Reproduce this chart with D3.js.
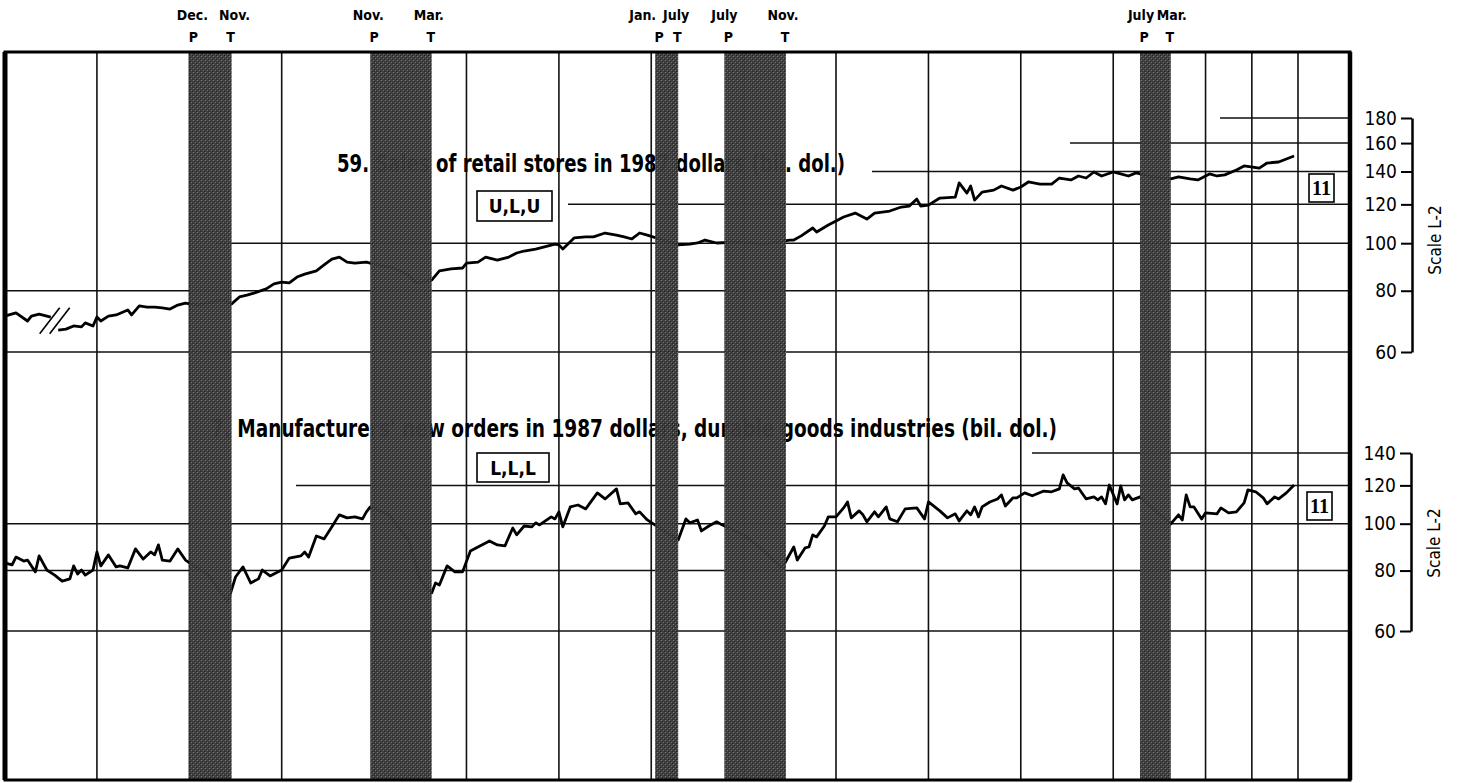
<!DOCTYPE html>
<html>
<head>
<meta charset="utf-8">
<script src="https://cdn.jsdelivr.net/npm/d3@7"></script>
<style>
body { margin: 0; background: #fff; }
svg { display: block; }
text { font-family: "Liberation Sans Narrow", "DejaVu Sans Condensed", "Liberation Sans", sans-serif; }
</style>
</head>
<body>
<div id="chart"></div>
<script>
// series 59, before the break in the series (old basis)
const retailBeforeBreak = [
  ["1966-01",71.0],["1966-04",72.1],["1966-07",69.4],["1966-08",71.0],["1966-10",71.7],["1967-01",70.7]
];
// series 59, sales of retail stores in 1987 dollars (bil. dol.)
const retailSales = [
  ["1967-03",66.5],["1967-05",66.8],["1967-07",67.8],["1967-09",67.5],["1967-10",68.8],["1967-12",67.8],
  ["1968-01",70.7],["1968-02",69.4],["1968-04",71.0],["1968-06",71.4],["1968-09",73.1],["1968-10",71.4],["1968-12",74.5],
  ["1969-02",74.1],["1969-04",74.1],["1969-06",73.8],["1969-08",73.4],["1969-10",74.8],["1969-12",75.5],
  ["1970-03",74.8],["1970-07",75.9],["1970-10",76.6],["1970-12",75.2],
  ["1971-02",77.7],["1971-04",78.4],["1971-06",79.2],["1971-09",80.7],["1971-11",82.6],
  ["1972-01",83.3],["1972-03",83.0],["1972-05",85.3],["1972-07",86.5],["1972-10",87.8],["1972-12",90.3],
  ["1973-02",92.8],["1973-04",93.7],["1973-06",91.5],["1973-08",91.1],["1973-11",91.5],["1973-12",91.1],
  ["1974-06",89.0],["1974-10",86.1],["1974-12",83.0],
  ["1975-04",84.1],["1975-06",87.8],["1975-09",88.6],["1975-12",89.0],
  ["1976-01",91.1],["1976-04",91.5],["1976-06",93.7],["1976-09",92.4],["1976-12",93.7],
  ["1977-02",95.5],["1977-04",96.4],["1977-07",97.3],["1977-09",98.2],["1977-12",99.6],
  ["1978-01",99.2],["1978-02",97.3],["1978-05",102.5],["1978-08",103.0],["1978-10",103.0],
  ["1979-01",104.9],["1979-04",103.9],["1979-06",103.0],["1979-08",102.0],["1979-10",104.9],["1979-12",103.9],
  ["1980-04",101.5],["1980-08",99.2],["1980-11",99.6],
  ["1981-01",100.1],["1981-03",101.5],["1981-06",100.1],["1981-12",100.6],["1982-06",99.6],
  ["1983-01",101.5],["1983-02",101.5],["1983-04",103.5],["1983-07",107.4],["1983-08",105.4],["1983-11",108.9],
  ["1984-01",111.0],["1984-03",113.1],["1984-06",115.2],["1984-09",112.0],["1984-11",115.2],
  ["1985-03",116.3],["1985-06",118.5],["1985-08",119.0],["1985-10",123.0],["1985-11",119.0],
  ["1986-01",119.6],["1986-04",123.6],["1986-08",124.2],["1986-09",132.7],["1986-11",126.5],["1986-12",130.8],
  ["1987-01",122.4],["1987-03",127.1],["1987-06",128.3],["1987-08",130.8],["1987-11",128.3],
  ["1988-01",130.2],["1988-03",133.3],["1988-06",132.0],["1988-09",132.0],["1988-11",135.8],
  ["1989-02",134.6],["1989-04",137.1],["1989-06",135.8],["1989-08",139.7],["1989-10",137.1],
  ["1990-01",139.7],["1990-03",138.4],["1990-05",137.1],["1990-07",139.1],["1990-11",136.5],
  ["1991-04",135.2],["1991-06",136.5],["1991-09",135.2],["1991-11",134.6],
  ["1992-02",138.4],["1992-04",137.1],["1992-06",137.8],["1992-09",141.0],["1992-11",143.7],
  ["1993-03",142.3],["1993-05",145.7],["1993-08",146.4],["1993-12",150.6]
];
// series 7, manufacturers' new orders, durable goods, 1987 dollars (bil. dol.)
const durableOrders = [
  ["1966-01",83.0],["1966-03",82.2],["1966-04",85.3],["1966-06",83.7],["1966-07",84.1],["1966-09",79.5],["1966-10",85.8],["1966-12",80.2],
  ["1967-02",78.3],["1967-04",76.1],["1967-06",76.9],["1967-07",81.8],["1967-08",78.7],["1967-09",80.2],["1967-10",78.3],["1967-12",80.2],
  ["1968-01",87.4],["1968-02",81.8],["1968-04",86.2],["1968-06",81.4],["1968-07",81.8],["1968-09",81.0],["1968-11",88.7],
  ["1969-01",84.5],["1969-03",87.4],["1969-04",86.2],["1969-05",90.4],["1969-06",84.1],["1969-08",83.7],["1969-10",88.7],["1969-12",84.1],
  ["1970-06",78.3],["1970-11",68.9],
  ["1971-01",77.6],["1971-03",81.4],["1971-05",75.4],["1971-07",76.9],["1971-08",80.2],["1971-10",78.0],
  ["1972-01",80.2],["1972-03",84.9],["1972-06",85.8],["1972-07",87.4],["1972-08",85.3],["1972-10",94.3],["1972-12",93.0],
  ["1973-02",98.5],["1973-04",104.3],["1973-06",102.8],["1973-08",103.3],["1973-10",102.3],["1973-11",105.8],["1973-12",108.3],
  ["1974-05",104.3],["1974-10",92.5],["1975-01",76.5],
  ["1975-04",71.9],["1975-05",75.4],["1975-06",74.7],["1975-08",81.8],["1975-10",79.5],["1975-12",79.5],
  ["1976-02",87.8],["1976-04",89.5],["1976-07",92.1],["1976-09",90.4],["1976-11",90.0],
  ["1977-01",98.0],["1977-02",94.8],["1977-04",98.9],["1977-06",98.5],["1977-07",100.4],["1977-08",99.4],["1977-11",103.3],["1977-12",102.3],
  ["1978-01",105.8],["1978-02",98.5],["1978-04",108.3],["1978-06",109.3],["1978-08",107.3],["1978-11",115.8],
  ["1979-01",112.5],["1979-04",118.0],["1979-05",109.9],["1979-07",110.4],["1979-09",104.8],["1979-10",105.8],["1979-12",101.8],
  ["1980-04",97.0],["1980-08",92.5],["1980-10",102.3],["1980-11",100.4],
  ["1981-01",101.8],["1981-02",96.6],["1981-04",98.9],["1981-06",100.9],["1981-07",99.9],
  ["1982-01",94.8],["1982-06",88.3],["1982-11",81.0],
  ["1983-02",89.5],["1983-03",84.1],["1983-05",89.1],["1983-06",89.5],["1983-07",94.8],["1983-08",93.9],["1983-10",98.9],["1983-11",103.3],
  ["1984-01",103.3],["1984-03",107.8],["1984-04",110.9],["1984-05",102.8],["1984-07",106.3],["1984-08",104.3],["1984-09",100.9],["1984-11",105.8],["1984-12",103.3],
  ["1985-02",108.3],["1985-03",102.3],["1985-05",100.9],["1985-07",107.3],["1985-10",107.8],["1985-12",102.3],
  ["1986-01",110.9],["1986-04",106.3],["1986-06",102.8],["1986-08",104.8],["1986-09",101.3],["1986-11",106.3],["1986-12",104.3],
  ["1987-01",108.3],["1987-02",103.3],["1987-03",108.3],["1987-05",110.9],["1987-07",112.5],["1987-08",114.7],["1987-09",108.8],["1987-11",113.1],["1987-12",113.1],
  ["1988-02",115.8],["1988-04",114.2],["1988-07",116.8],["1988-09",116.4],["1988-11",118.0],["1988-12",126.1],
  ["1989-01",121.4],["1989-03",118.0],["1989-04",118.5],["1989-06",112.5],["1989-08",113.6],["1989-09",112.0],["1989-10",113.6],["1989-11",109.9],["1989-12",120.2],
  ["1990-02",109.9],["1990-03",119.7],["1990-04",112.0],["1990-05",114.7],["1990-06",112.0],["1990-08",113.6],["1990-11",108.0],
  ["1991-04",99.9],["1991-06",104.3],["1991-07",101.8],["1991-08",114.7],["1991-09",108.3],["1991-10",108.3],["1991-12",102.3],
  ["1992-01",105.3],["1992-04",104.8],["1992-05",107.8],["1992-07",105.3],["1992-09",105.8],["1992-11",110.4],["1992-12",117.4],
  ["1993-02",116.4],["1993-04",113.1],["1993-05",109.9],["1993-07",113.6],["1993-08",112.5],["1993-10",115.8],["1993-12",120.2]
];

// business cycle peaks (P) and troughs (T)
const peaks = ["1969-12","1973-11","1980-01","1981-07","1990-07"];
const troughs = ["1970-11","1975-03","1980-07","1982-11","1991-03"];
const peakLabels = ["Dec.","Nov.","Jan.","July","July"];
const troughLabels = ["Nov.","Mar.","July","Nov.","Mar."];

const gridYears = [1968,1970,1972,1974,1976,1978,1980,1982,1984,1986,1988,1990,1992,1993,1994];
const retailTicks = [60,80,100,120,140,160,180];
const ordersTicks = [60,80,100,120,140];

const retailTitle = "59. Sales of retail stores in 1987 dollars (bil. dol.)";
const ordersTitle = "7. Manufacturers' new orders in 1987 dollars, durable goods industries (bil. dol.)";

// layout
const width = 1461, height = 783;
const frame = {left: 5, right: 1350, top: 52, bottom: 780};
const retailGridStart = {60: 5, 80: 5, 100: 215, 120: 568, 140: 872, 160: 1070, 180: 1220};
const ordersGridStart = {60: 5, 80: 5, 100: 5, 120: 296, 140: 1032};

const parse = d3.timeParse("%Y-%m");
const x = d3.scaleTime()
  .domain([new Date(1966, 0, 1), new Date(1994, 0, 1)])
  .range([4.6, 1298]);
const yRetail = d3.scaleLog().domain([60, 180]).range([352, 118]);
const yOrders = d3.scaleLog().domain([60, 140]).range([631, 453]);

const svg = d3.select("#chart").append("svg")
  .attr("width", width)
  .attr("height", height);

const defs = svg.append("defs");
const pat = defs.append("pattern")
  .attr("id", "stipple")
  .attr("width", 4).attr("height", 4)
  .attr("patternUnits", "userSpaceOnUse");
pat.append("rect").attr("width", 4).attr("height", 4).attr("fill", "#3a3a3a");
pat.append("rect").attr("x", 1).attr("y", 0).attr("width", 1).attr("height", 1).attr("fill", "#7a7a7a");
pat.append("rect").attr("x", 3).attr("y", 2).attr("width", 1).attr("height", 1).attr("fill", "#6a6a6a");
pat.append("rect").attr("x", 0).attr("y", 3).attr("width", 1).attr("height", 1).attr("fill", "#1c1c1c");
pat.append("rect").attr("x", 2).attr("y", 1).attr("width", 1).attr("height", 1).attr("fill", "#222");

// vertical grid
svg.append("g").selectAll("line")
  .data(gridYears)
  .enter().append("line")
  .attr("x1", d => x(new Date(d, 0, 1)))
  .attr("x2", d => x(new Date(d, 0, 1)))
  .attr("y1", frame.top)
  .attr("y2", frame.bottom)
  .attr("stroke", "#111")
  .attr("stroke-width", 1.6);

// horizontal grid
function hGrid(ticks, y, start){
  svg.append("g").selectAll("line")
    .data(ticks)
    .enter().append("line")
    .attr("x1", d => start[d])
    .attr("x2", frame.right)
    .attr("y1", d => y(d))
    .attr("y2", d => y(d))
    .attr("stroke", "#111")
    .attr("stroke-width", 1.5);
}
hGrid(retailTicks, yRetail, retailGridStart);
hGrid(ordersTicks, yOrders, ordersGridStart);

// titles
svg.append("text")
  .attr("x", 337).attr("y", 172)
  .attr("font-size", 24).attr("font-weight", "bold")
  .attr("textLength", 508).attr("lengthAdjust", "spacingAndGlyphs")
  .text(retailTitle);
svg.append("text")
  .attr("x", 211).attr("y", 437)
  .attr("font-size", 24).attr("font-weight", "bold")
  .attr("textLength", 846).attr("lengthAdjust", "spacingAndGlyphs")
  .text(ordersTitle);

// timing boxes
function codeBox(label, bx, by, w, h){
  svg.append("rect")
    .attr("x", bx).attr("y", by).attr("width", w).attr("height", h)
    .attr("fill", "#fff").attr("stroke", "#000").attr("stroke-width", 1.6);
  svg.append("text")
    .attr("x", bx + w / 2).attr("y", by + h / 2 + 7)
    .attr("text-anchor", "middle")
    .attr("font-size", 19).attr("font-weight", "bold")
    .text(label);
}
codeBox("U,L,U", 477, 191, 75, 30);
codeBox("L,L,L", 477, 453, 72, 29);

function pageBox(bx, by){
  svg.append("rect")
    .attr("x", bx).attr("y", by).attr("width", 25).attr("height", 28)
    .attr("fill", "#fff").attr("stroke", "#000").attr("stroke-width", 1.6);
  svg.append("text")
    .attr("x", bx + 12.5).attr("y", by + 21)
    .attr("text-anchor", "middle")
    .style("font-family", "'Liberation Serif', 'DejaVu Serif', serif")
    .attr("font-size", 20).attr("font-weight", "bold")
    .text("11");
}
pageBox(1309, 174);
pageBox(1307, 492);

// series lines
const line = y => d3.line()
  .x(d => x(parse(d[0])))
  .y(d => y(d[1]));

[[retailBeforeBreak, yRetail], [retailSales, yRetail], [durableOrders, yOrders]].forEach(([data, y]) => {
  svg.append("path")
    .datum(data)
    .attr("d", line(y))
    .attr("fill", "none")
    .attr("stroke", "#000")
    .attr("stroke-width", 2.8)
    .attr("stroke-linejoin", "round");
});

// break mark between the two parts of series 59
const bx = x(parse("1967-02")), by = yRetail(69.5);
[-5, 5].forEach(off => {
  svg.append("line")
    .attr("x1", bx + off - 10).attr("y1", by + 13)
    .attr("x2", bx + off + 10).attr("y2", by - 13)
    .attr("stroke", "#000").attr("stroke-width", 1.6);
});

// recession shading
const month = s => d3.timeMonth.offset(parse(s), 1);
svg.append("g").selectAll("rect")
  .data(peaks)
  .enter().append("rect")
  .attr("x", (d, i) => x(month(d)))
  .attr("width", (d, i) => x(month(troughs[i])) - x(month(d)))
  .attr("y", frame.top)
  .attr("height", frame.bottom - frame.top)
  .attr("fill", "url(#stipple)")
  .attr("opacity", 0.97);

// frame
svg.append("rect")
  .attr("x", frame.left).attr("y", frame.top)
  .attr("width", frame.right - frame.left)
  .attr("height", frame.bottom - frame.top)
  .attr("fill", "none")
  .attr("stroke", "#000")
  .attr("stroke-width", 3);
svg.append("line")
  .attr("x1", frame.left).attr("x2", frame.left)
  .attr("y1", frame.top).attr("y2", frame.bottom)
  .attr("stroke", "#000").attr("stroke-width", 5);
svg.append("line")
  .attr("x1", frame.right).attr("x2", frame.right)
  .attr("y1", frame.top).attr("y2", frame.bottom)
  .attr("stroke", "#000").attr("stroke-width", 4.5);

// P / T labels above the frame
const labelOffset = {peak: [3, -2, -5, 0, 1], trough: [3, -3, -2, -3, 1]};
peaks.forEach((d, i) => {
  const px = x(month(d));
  svg.append("text").attr("x", px + labelOffset.peak[i]).attr("y", 20)
    .attr("text-anchor", i === 2 ? "end" : "middle")
    .attr("dx", i === 2 ? 6 : 0)
    .attr("font-size", 14).attr("font-weight", "bold").text(peakLabels[i]);
  svg.append("text").attr("x", px + 4).attr("y", 42)
    .attr("text-anchor", "middle")
    .attr("font-size", 14).attr("font-weight", "bold").text("P");
});
troughs.forEach((d, i) => {
  const tx = x(month(d));
  svg.append("text").attr("x", tx + labelOffset.trough[i]).attr("y", 20)
    .attr("text-anchor", "middle")
    .attr("font-size", 14).attr("font-weight", "bold").text(troughLabels[i]);
  svg.append("text").attr("x", tx - 1).attr("y", 42)
    .attr("text-anchor", "middle")
    .attr("font-size", 14).attr("font-weight", "bold").text("T");
});

// right-hand scales
function scaleAxis(y, ticks, ax, labelY){
  const g = svg.append("g")
    .attr("transform", `translate(${ax},0)`)
    .call(d3.axisLeft(y).tickValues(ticks).tickFormat(d3.format("d"))
      .tickSize(11).tickSizeOuter(0).tickPadding(4));
  g.select(".domain").attr("stroke-width", 2.5);
  g.selectAll(".tick line").attr("stroke-width", 2);
  g.selectAll(".tick text")
    .attr("font-size", 19)
    .style("font-family", "'Liberation Sans Narrow', 'DejaVu Sans Condensed', sans-serif")
    .attr("fill", "#000");
  svg.append("text")
    .attr("transform", `translate(${ax + 29},${labelY}) rotate(-90)`)
    .attr("text-anchor", "middle")
    .attr("font-size", 17)
    .text("Scale L-2");
}
scaleAxis(yRetail, retailTicks, 1412, 240);
scaleAxis(yOrders, ordersTicks, 1411, 543);
</script>
</body>
</html>
